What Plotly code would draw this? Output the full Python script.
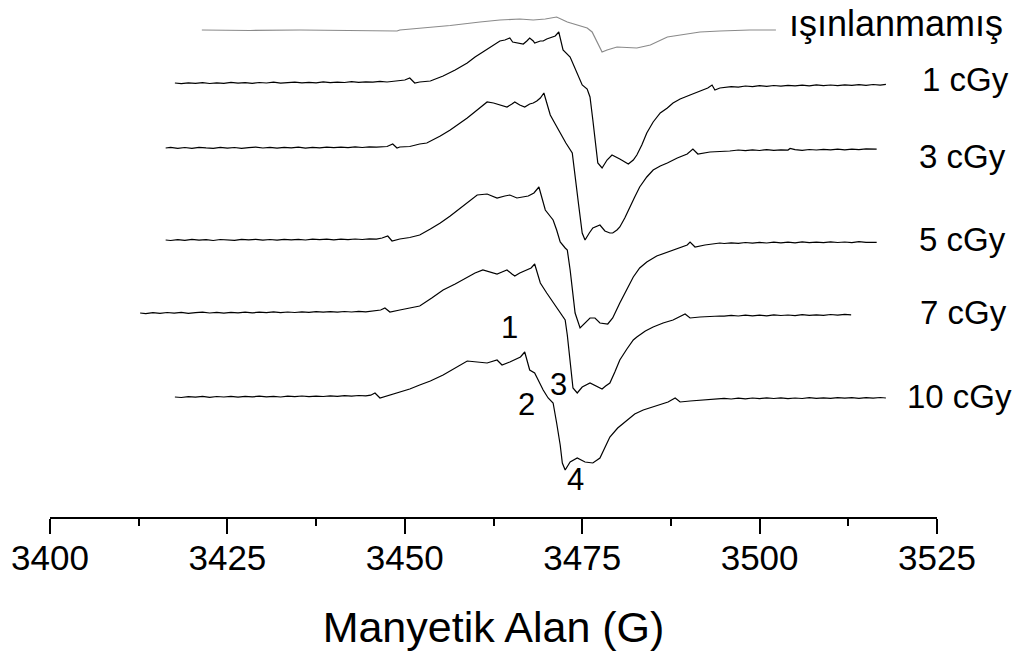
import plotly.graph_objects as go

# Magnetic field (G) and first-derivative EPR intensity (a.u.) for each sample
field_0 = [3421.4, 3428.2, 3435.2, 3442.3, 3448.9, 3449.3, 3452.1, 3456.4, 3460.6, 3463.4,
           3466.2, 3468.1, 3469.8, 3471.4, 3472.9, 3474.7, 3475.7, 3476.4, 3477.1, 3477.8,
           3478.5, 3479.9, 3482.7, 3484.6, 3487.0, 3489.5, 3491.6, 3494.4, 3498.6, 3502.3]
signal_0 = [0, -0.5, 0, -0.3, -1, 0, 1.5, 4.5, 8, 10,
            11, 10, 11, 13, 8, 4, 2, -2, -12, -22,
            -20, -17, -18, -15, -7, -4, -2, -1, 0, 0]

field_1 = [3417.6, 3418.5, 3419.5, 3420.5, 3421.5, 3422.5, 3423.5, 3424.5, 3425.5, 3426.5,
           3427.5, 3428.5, 3429.5, 3430.5, 3431.5, 3432.5, 3433.5, 3434.5, 3435.5, 3436.5,
           3437.5, 3438.5, 3439.5, 3440.5, 3441.5, 3442.5, 3443.5, 3444.5, 3445.5, 3446.5,
           3447.5, 3448.5, 3449.3, 3450.0, 3450.7, 3451.2, 3451.4, 3452.1, 3453.6, 3455.4,
           3457.1, 3458.8, 3459.9, 3461.0, 3462.3, 3463.4, 3464.1, 3464.8, 3465.2, 3466.0,
           3466.7, 3467.2, 3467.6, 3468.1, 3468.3, 3469.1, 3469.5, 3470.0, 3470.5, 3471.2,
           3471.7, 3472.3, 3473.3, 3474.1, 3475.0, 3475.7, 3476.1, 3476.5, 3476.8, 3477.2,
           3477.8, 3478.5, 3479.2, 3479.8, 3480.3, 3481.5, 3482.2, 3482.7, 3483.4, 3484.1,
           3485.0, 3486.0, 3487.0, 3487.8, 3488.8, 3490.2, 3491.6, 3492.7, 3493.3, 3493.7,
           3494.4, 3495, 3496, 3497, 3498, 3499, 3500, 3501, 3502, 3503,
           3504, 3505, 3506, 3507, 3508, 3509, 3510, 3511, 3512, 3513,
           3514, 3515, 3516, 3517, 3517.8]
signal_1 = [1.0, 0.3, 1.2, 0.6, 1.4, 0.5, 1.1, 0.7, 1.6, 0.9,
            1.3, 0.6, 1.5, 1.0, 1.8, 0.9, 1.4, 1.9, 1.1, 1.7,
            1.2, 2.1, 1.3, 1.9, 1.5, 2.3, 1.6, 2.2, 1.8, 2.6,
            2.0, 2.8, 3, 4, 6, 2, 1, 2, 3, 8,
            14, 21, 27, 32, 38, 43, 44, 46, 42, 41,
            40, 43, 46, 43, 41, 43, 43, 45, 46, 48,
            52, 34, 27, 14, -1, -5, -13, -36, -56, -79,
            -84, -76, -71, -73, -75, -80, -76, -71, -61, -49,
            -38, -29, -24, -19, -15, -11, -7, -4, -1, -6,
            -4, -3.4, -2.6, -3.1, -2.0, -2.7, -1.6, -2.3, -1.5, -2.2,
            -1.3, -1.9, -1.1, -1.8, -0.9, -1.6, -1.0, -1.7, -0.8, -1.4,
            -0.6, -1.3, -0.5, -1.1, -0.4]

field_3 = [3416.3, 3417, 3418, 3419, 3420, 3421, 3422, 3423, 3424, 3425,
           3426, 3427, 3428, 3429, 3430, 3431, 3432, 3433, 3434, 3435,
           3436, 3437, 3438, 3439, 3440, 3441, 3442, 3443, 3444, 3445,
           3446, 3447.5, 3448.3, 3448.9, 3449.3, 3450.7, 3452.1, 3453.1, 3455.0, 3456.4,
           3457.8, 3458.8, 3460.2, 3461.6, 3462.5, 3463.4, 3464.4, 3465.1, 3465.5, 3466.2,
           3466.9, 3467.6, 3468.1, 3468.6, 3469.1, 3469.6, 3470.2, 3470.5, 3471.2, 3471.9,
           3472.7, 3473.6, 3473.8, 3474.0, 3474.5, 3475.0, 3475.4, 3476.0, 3476.5, 3477.5,
           3478.2, 3478.9, 3479.3, 3479.9, 3480.3, 3481.0, 3481.7, 3482.4, 3483.1, 3484.1,
           3485.0, 3486.0, 3487.0, 3488.4, 3489.8, 3490.6, 3491.3, 3493.0, 3495.8, 3497,
           3498, 3499, 3500, 3501, 3502, 3503, 3504, 3504.3, 3505, 3506,
           3507, 3508, 3509, 3510, 3511, 3512, 3513, 3514, 3515, 3516,
           3516.5]
signal_3 = [0, 0.6, -0.3, 0.5, -0.4, 0.7, 0.1, -0.3, 0.6, -0.1,
            0.5, -0.4, 0.4, 0.9, 0.0, 0.6, -0.2, 0.7, 0.2, 0.8,
            -0.1, 0.6, 0.2, 0.9, 0.3, 0.8, 0.4, 1.1, 0.5, 1.2,
            0.8, 1.5, 4, 0, 1, 1.5, 4, 5, 12, 18,
            25, 30, 38, 46, 45, 43, 41, 44, 46, 43,
            41, 44, 45, 47, 50, 55, 40, 33, 24, 15,
            5, -5, -17, -32, -57, -85, -92, -85, -80, -77,
            -83, -85, -85, -82, -79, -70, -59, -49, -39, -29,
            -22, -18, -15, -10, -6, -1, -6, -4, -3, -2.0,
            -2.7, -1.9, -2.5, -1.6, -2.3, -1.8, -2.1, -0.5, -1.6, -2.3,
            -1.5, -2.0, -1.3, -1.9, -1.2, -1.8, -1.1, -1.6, -0.9, -1.5,
            -1.1]

field_5 = [3416.3, 3417, 3418, 3419, 3420, 3421, 3422, 3423, 3424, 3425,
           3426, 3427, 3428, 3429, 3430, 3431, 3432, 3433, 3434, 3435,
           3436, 3437, 3438, 3439, 3440, 3441, 3442, 3443, 3444, 3445,
           3446, 3446.8, 3447.6, 3448.2, 3449.3, 3450.7, 3452.1, 3453.6, 3455.0, 3456.4,
           3457.8, 3459.2, 3460.2, 3461.6, 3463.0, 3464.1, 3464.8, 3465.8, 3466.6, 3467.4,
           3468.2, 3468.9, 3469.8, 3470.9, 3471.4, 3471.9, 3472.6, 3472.9, 3473.3, 3473.7,
           3474.0, 3474.7, 3475.4, 3476.1, 3476.8, 3477.5, 3478.6, 3479.3, 3480.3, 3481.3,
           3482.2, 3483.1, 3484.1, 3485.5, 3487.0, 3488.4, 3489.8, 3490.2, 3490.9, 3492.3,
           3494.4, 3495, 3496, 3497, 3498, 3499, 3500, 3501, 3502, 3503,
           3504, 3505, 3506, 3507, 3508, 3509, 3510, 3511, 3512, 3513,
           3514, 3515, 3516, 3516.5]
signal_5 = [0, -0.5, 0.4, -0.3, 0.6, -0.2, 0.3, -0.5, 0.5, 0.0,
            -0.4, 0.6, 0.1, 0.7, -0.1, 0.5, -0.2, 0.6, 0.2, 0.7,
            0.0, 0.8, 0.3, 0.9, 0.2, 0.8, 0.4, 1.0, 0.5, 1.2,
            0.9, 2, 4, -1, 1, 2.5, 5, 11, 17, 24,
            32, 40, 45, 46, 42, 44, 45, 42, 43, 44,
            47, 53, 30, 20, 10, -2, -8, -10, -30, -55,
            -73, -88, -83, -78, -78, -83, -84, -78, -63, -50,
            -37, -28, -22, -16, -12, -8, -5, -2, -7, -5,
            -3, -3.5, -2.8, -3.4, -2.5, -3.1, -2.4, -3.0, -2.1, -2.8,
            -2.2, -2.9, -1.9, -2.6, -2.1, -2.7, -1.8, -2.5, -2.0, -2.6,
            -1.7, -2.4, -1.9, -2.3]

field_7 = [3412.7, 3413.5, 3414.5, 3415.5, 3416.5, 3417.5, 3418.5, 3419.5, 3420.5, 3421.5,
           3422.5, 3423.5, 3424.5, 3425.5, 3426.5, 3427.5, 3428.5, 3429.5, 3430.5, 3431.5,
           3432.5, 3433.5, 3434.5, 3435.5, 3436.5, 3437.5, 3438.5, 3439.5, 3440.5, 3441.5,
           3442.5, 3443.5, 3444.5, 3445.5, 3446.6, 3447.2, 3447.9, 3449.3, 3450.7, 3452.1,
           3453.8, 3455.4, 3457.1, 3458.8, 3459.9, 3461.0, 3462.0, 3463.0, 3463.7, 3464.4,
           3465.1, 3465.5, 3466.2, 3467.2, 3467.8, 3468.3, 3469.1, 3470.0, 3470.9, 3471.9,
           3472.6, 3472.9, 3473.3, 3473.7, 3474.3, 3475.0, 3476.1, 3477.1, 3477.8, 3478.3,
           3478.9, 3479.6, 3480.3, 3481.3, 3482.2, 3482.7, 3483.9, 3485.0, 3486.4, 3487.8,
           3489.5, 3490.2, 3491.6, 3494.4, 3495, 3496, 3497, 3498, 3499, 3500,
           3501, 3502, 3503, 3504, 3505, 3506, 3507, 3508, 3509, 3510,
           3511, 3512, 3512.9]
signal_7 = [0, -0.6, 0.3, -0.4, 0.5, -0.2, 0.6, -0.3, 0.4, 0.9,
            0.0, 0.6, -0.1, 0.7, 0.2, 0.9, 0.1, 0.8, 0.3, 1.1,
            0.4, 1.0, 0.5, 1.2, 0.6, 1.3, 0.8, 1.4, 0.9, 1.5,
            1.0, 1.7, 1.2, 1.9, 3, 5, 1, 3, 5, 7,
            15, 23, 29, 36, 40, 43, 41, 39, 41, 43,
            39, 37, 40, 43, 45, 49, 30, 20, 11, 0,
            -7, -22, -50, -75, -80, -74, -70, -74, -76, -73,
            -70, -59, -47, -36, -27, -24, -18, -14, -10, -7,
            -1, -5, -4, -3, -3.2, -2.4, -3.0, -2.1, -2.8, -2.2,
            -2.9, -1.8, -2.5, -2.0, -2.6, -1.6, -2.3, -1.8, -2.4, -1.5,
            -2.1, -1.4, -1.9]

field_10 = [3417.6, 3418.5, 3419.5, 3420.5, 3421.5, 3422.5, 3423.5, 3424.5, 3425.5, 3426.5,
            3427.5, 3428.5, 3429.5, 3430.5, 3431.5, 3432.5, 3433.5, 3434.5, 3435.5, 3436.5,
            3437.5, 3438.5, 3439.5, 3440.5, 3441.5, 3442.5, 3443.5, 3444.5, 3445.2, 3445.8,
            3446.5, 3447.9, 3449.3, 3450.7, 3452.1, 3453.6, 3455.4, 3457.1, 3458.8, 3460.2,
            3461.6, 3463.0, 3463.7, 3464.8, 3465.8, 3466.3, 3466.9, 3467.6, 3468.3, 3469.1,
            3469.5, 3470.2, 3470.9, 3471.4, 3471.9, 3472.2, 3472.6, 3473.3, 3474.3, 3475.4,
            3476.5, 3477.5, 3478.2, 3478.9, 3480.0, 3481.3, 3482.4, 3483.6, 3484.8, 3486.0,
            3487.1, 3488.1, 3488.8, 3490.2, 3494.4, 3495, 3496, 3497, 3498, 3499,
            3500, 3501, 3502, 3503, 3504, 3505, 3506, 3507, 3508, 3509,
            3510, 3511, 3512, 3513, 3514, 3515, 3516, 3517, 3517.8]
signal_10 = [0, -0.5, 0.4, -0.2, 0.6, -0.3, 0.5, 0.0, 0.7, -0.1,
             0.6, 0.1, 0.8, 0.2, 0.7, 0.0, 0.9, 0.3, 1.0, 0.4,
             0.9, 0.5, 1.2, 0.6, 1.3, 0.8, 1.5, 1.1, 1.8, 4,
             -1, 2, 5, 8, 12, 16, 22, 29, 36, 35,
             34, 37, 32, 35, 38, 40, 45, 27, 24, 13,
             7, -1, -6, -26, -48, -66, -73, -65, -61, -65,
             -66, -61, -51, -40, -31, -23, -17, -13, -10, -7,
             -5, -1, -5, -4, -2, -1.3, -2.0, -1.2, -1.8, -1.0,
             -1.7, -0.9, -1.5, -0.8, -1.6, -1.0, -1.5, -0.7, -1.4, -0.8,
             -1.3, -0.6, -1.2, -0.7, -1.3, -0.6, -1.1, -0.5, -1.0]

dose_labels = ["ışınlanmamış", "1 cGy", "3 cGy", "5 cGy", "7 cGy", "10 cGy"]
fields = [field_0, field_1, field_3, field_5, field_7, field_10]
signals = [signal_0, signal_1, signal_3, signal_5, signal_7, signal_10]
# vertical stacking offsets of the spectra (a.u.)
offsets = [30, 84, 148, 240, 313, 397]
line_colors = ["#8a8a8a", "black", "black", "black", "black", "black"]

# dose label anchors (left edge field, vertical centre) and sizes
label_field = [3503.9, 3522.6, 3522.2, 3522.2, 3522.3, 3520.5]
label_level = [23, 79, 156, 239, 312, 396]
label_size = [36, 33, 33, 33, 33, 33]

# numbered features on the 10 cGy spectrum
peak_names = ["1", "2", "3", "4"]
peak_field = [3464.8, 3467.2, 3471.7, 3474.1]
peak_level = [327, 404, 384, 479]

FONT = "Liberation Sans, Arial, sans-serif"

fig = go.Figure()
for name, fx, sy, off, col in zip(dose_labels, fields, signals, offsets, line_colors):
    assert len(fx) == len(sy), name
    fig.add_trace(go.Scatter(
        x=fx, y=[v - off for v in sy], mode="lines", name=name,
        line=dict(color=col, width=1.2), showlegend=False, hoverinfo="skip"))

for name, fx, lv, fs in zip(dose_labels, label_field, label_level, label_size):
    fig.add_annotation(x=fx, y=-lv, xref="x", yref="y", text=name, showarrow=False,
                       xanchor="left", yanchor="middle",
                       font=dict(family=FONT, size=fs, color="black"))

for name, fx, lv in zip(peak_names, peak_field, peak_level):
    fig.add_annotation(x=fx, y=-lv, xref="x", yref="y", text=name, showarrow=False,
                       xanchor="center", yanchor="middle",
                       font=dict(family=FONT, size=31, color="black"))

fig.update_layout(
    width=1025, height=652,
    margin=dict(l=50, r=88, t=0, b=135),
    paper_bgcolor="white", plot_bgcolor="white",
    font=dict(family=FONT, color="black"),
)
fig.update_xaxes(
    range=[3400, 3525], tickmode="linear", tick0=3400, dtick=25,
    showline=True, linecolor="black", linewidth=2,
    ticks="outside", ticklen=15, tickwidth=2, tickcolor="black",
    ticklabelstandoff=-6,
    tickfont=dict(family=FONT, size=35, color="black"),
    minor=dict(dtick=12.5, tick0=3400, ticks="outside", ticklen=7, tickwidth=2, tickcolor="black"),
    showgrid=False, zeroline=False,
    title=dict(text="Manyetik Alan (G)", font=dict(family=FONT, size=43, color="black"), standoff=36),
)
fig.update_yaxes(range=[-517, 0], visible=False, showgrid=False, zeroline=False)

fig.write_html("out.html")
